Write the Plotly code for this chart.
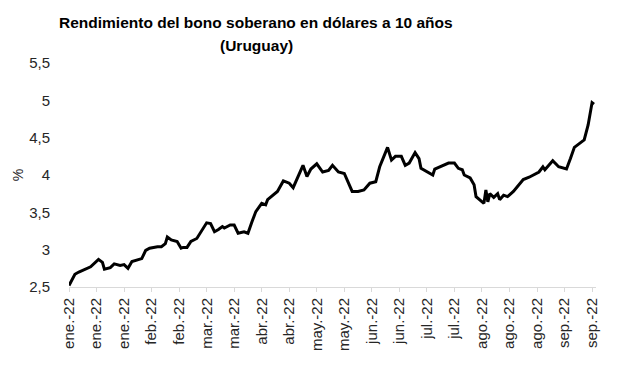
import plotly.graph_objects as go
import pandas as pd

dates = [
    "2022-01-03", "2022-01-06", "2022-01-08", "2022-01-12", "2022-01-14", "2022-01-18",
    "2022-01-20", "2022-01-21", "2022-01-24", "2022-01-26", "2022-01-29", "2022-01-31",
    "2022-02-02", "2022-02-04", "2022-02-07", "2022-02-09", "2022-02-11", "2022-02-13",
    "2022-02-17", "2022-02-19", "2022-02-21", "2022-02-22", "2022-02-24", "2022-02-27",
    "2022-03-01", "2022-03-02", "2022-03-04", "2022-03-06", "2022-03-09", "2022-03-11",
    "2022-03-14", "2022-03-16", "2022-03-18", "2022-03-20", "2022-03-22", "2022-03-23",
    "2022-03-26", "2022-03-28", "2022-03-30", "2022-04-02", "2022-04-04", "2022-04-06",
    "2022-04-08", "2022-04-11", "2022-04-13", "2022-04-14", "2022-04-15", "2022-04-19",
    "2022-04-22", "2022-04-25", "2022-04-27", "2022-04-30", "2022-05-02", "2022-05-04",
    "2022-05-06", "2022-05-09", "2022-05-12", "2022-05-15", "2022-05-17", "2022-05-20",
    "2022-05-23", "2022-05-27", "2022-05-30", "2022-06-02", "2022-06-05", "2022-06-08",
    "2022-06-10", "2022-06-14", "2022-06-16", "2022-06-18", "2022-06-21", "2022-06-23",
    "2022-06-25", "2022-06-28", "2022-06-30", "2022-07-01", "2022-07-04", "2022-07-07",
    "2022-07-08", "2022-07-12", "2022-07-15", "2022-07-18", "2022-07-20", "2022-07-22",
    "2022-07-23", "2022-07-26", "2022-07-28", "2022-07-29", "2022-08-01", "2022-08-02",
    "2022-08-03", "2022-08-04", "2022-08-05", "2022-08-07", "2022-08-09", "2022-08-10",
    "2022-08-12", "2022-08-14", "2022-08-17", "2022-08-20", "2022-08-22", "2022-08-25",
    "2022-08-27", "2022-08-30", "2022-09-01", "2022-09-02", "2022-09-04", "2022-09-06",
    "2022-09-09", "2022-09-13", "2022-09-15", "2022-09-17", "2022-09-21", "2022-09-22",
    "2022-09-24", "2022-09-26", "2022-09-27",
]

yields = [
    2.52, 2.67, 2.70, 2.74, 2.77, 2.87,
    2.83, 2.74, 2.76, 2.81, 2.79, 2.80,
    2.75, 2.84, 2.87, 2.88, 2.99, 3.02,
    3.04, 3.04, 3.08, 3.17, 3.13, 3.11,
    3.02, 3.03, 3.03, 3.11, 3.15, 3.24,
    3.36, 3.35, 3.24, 3.27, 3.31, 3.29,
    3.33, 3.33, 3.22, 3.24, 3.22, 3.37,
    3.51, 3.62, 3.60, 3.67, 3.69, 3.78,
    3.92, 3.89, 3.83, 4.02, 4.13, 3.98,
    4.08, 4.15, 4.04, 4.06, 4.13, 4.04,
    4.02, 3.78, 3.78, 3.80, 3.89, 3.91,
    4.11, 4.37, 4.20, 4.25, 4.25, 4.13,
    4.16, 4.30, 4.22, 4.09, 4.04, 4.00,
    4.08, 4.13, 4.16, 4.16, 4.09, 4.07,
    4.00, 3.96, 3.87, 3.71, 3.64, 3.62,
    3.80, 3.64, 3.75, 3.70, 3.75, 3.67,
    3.73, 3.71, 3.78, 3.87, 3.94, 3.97,
    4.00, 4.04, 4.11, 4.07, 4.13, 4.19,
    4.11, 4.08, 4.22, 4.37, 4.45, 4.47,
    4.67, 4.97, 4.95,
]

tick_dates = [
    "2022-01-03", "2022-01-17", "2022-01-31", "2022-02-14", "2022-02-28",
    "2022-03-14", "2022-03-28", "2022-04-11", "2022-04-25", "2022-05-09",
    "2022-05-23", "2022-06-06", "2022-06-20", "2022-07-04", "2022-07-18",
    "2022-08-01", "2022-08-15", "2022-08-29", "2022-09-12", "2022-09-26",
]
tick_labels = [
    "ene.-22", "ene.-22", "ene.-22", "feb.-22", "feb.-22",
    "mar.-22", "mar.-22", "abr.-22", "abr.-22", "may.-22",
    "may.-22", "jun.-22", "jun.-22", "jul.-22", "jul.-22",
    "ago.-22", "ago.-22", "ago.-22", "sep.-22", "sep.-22",
]

y_ticks = [2.5, 3, 3.5, 4, 4.5, 5, 5.5]

title_line1 = "Rendimiento del bono soberano en dólares a 10 años"
title_line2 = "(Uruguay)"

W, H = 609, 367

fig = go.Figure()
fig.add_trace(go.Scatter(
    x=pd.to_datetime(dates), y=yields, mode="lines",
    line=dict(color="#000000", width=3),
    showlegend=False,
))

font_family = "Liberation Sans, Arial, sans-serif"

fig.update_layout(
    width=W, height=H,
    margin=dict(l=61, r=21, t=55, b=88),
    paper_bgcolor="white", plot_bgcolor="white",
    separators=",.",
    font=dict(family=font_family, color="#404040", size=14),
    xaxis=dict(
        type="date",
        range=["2022-01-03", "2022-09-28"],
        tickvals=pd.to_datetime(tick_dates), ticktext=tick_labels,
        tickangle=-90,
        tickfont=dict(size=15, color="#262626"),
        showgrid=False, zeroline=False,
        showline=True, linecolor="#d9d9d9", linewidth=1,
        ticks="outside", ticklen=4, tickcolor="#d9d9d9",
        automargin=False,
    ),
    yaxis=dict(
        range=[2.5, 5.5],
        tickvals=y_ticks,
        tickformat=".1~f",
        tickfont=dict(size=15, color="#262626"),
        showgrid=False, zeroline=False, showline=False,
        ticks="outside", ticklen=15, tickcolor="rgba(0,0,0,0)",
        title=dict(text="%", font=dict(size=14, color="#262626"), standoff=2),
        automargin=False,
    ),
)

title_font = dict(family=font_family, size=15.5, color="#000000")
fig.add_annotation(
    text="<b>" + title_line1 + "</b>", xref="paper", yref="paper",
    x=(248 - 61) / (W - 61 - 21), y=1 + (55 - 14) / (H - 55 - 88),
    xanchor="center", yanchor="middle", showarrow=False, font=title_font,
)
fig.add_annotation(
    text="<b>" + title_line2 + "</b>", xref="paper", yref="paper",
    x=(248 - 61) / (W - 61 - 21), y=1 + (55 - 38) / (H - 55 - 88),
    xanchor="center", yanchor="middle", showarrow=False, font=title_font,
)

fig.write_html("out.html")
